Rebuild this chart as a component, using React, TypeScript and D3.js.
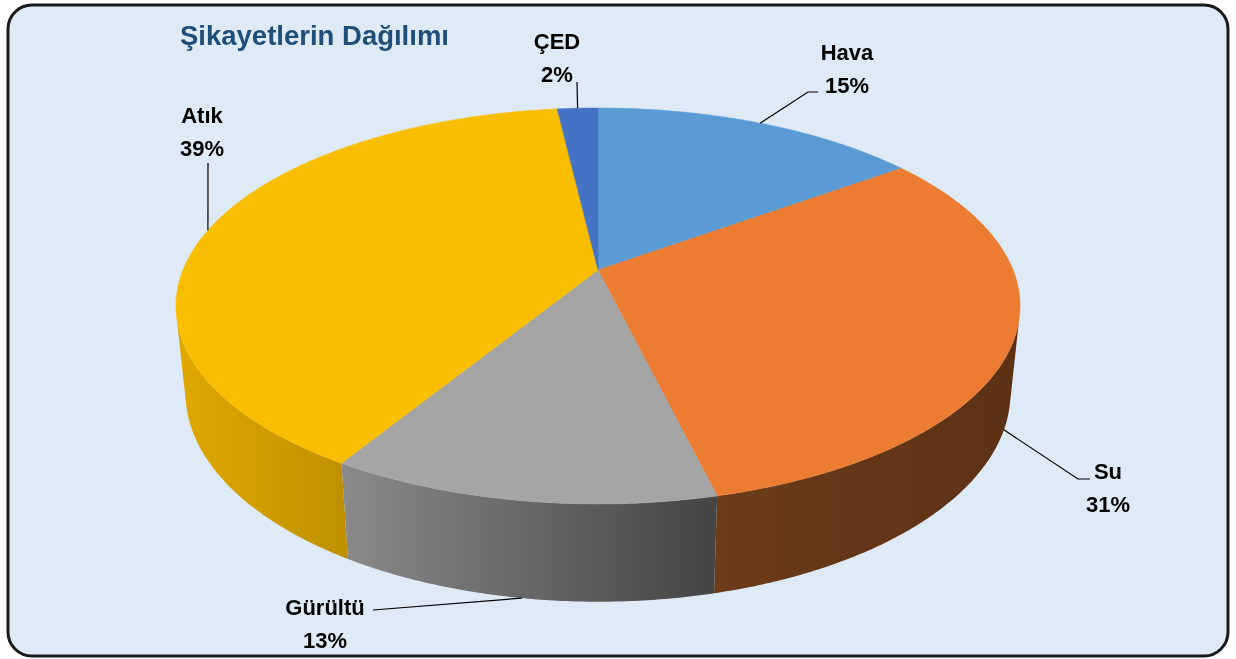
import * as d3 from 'd3';

const categories = ['Hava', 'Su', 'Gürültü', 'Atık', 'ÇED'];
const shares = [15.0, 31.2, 12.55, 39.4, 1.85];
const topColors = ['#5B9BD5', '#EB7C31', '#A5A5A5', '#FABE00', '#4472C4'];
const sideStops: string[][] = [
  ['#3F6F99', '#325A7E'],
  ['#6C3B19', '#5C3115'],
  ['#8A8A8A', '#444444'],
  ['#E0A900', '#BF8F00'],
  ['#2F5290', '#26437A'],
];

// label placement (center x, first baseline) and leader line bends
const labelLayout: Record<string, { x: number; y: number; bends: [number, number][] }> = {
  Hava: { x: 847, y: 60, bends: [[808, 92], [818, 92]] },
  Su: { x: 1108, y: 479, bends: [[1078, 479], [1090, 479]] },
  'Gürültü': { x: 325, y: 615, bends: [[373, 610]] },
  'Atık': { x: 202, y: 123, bends: [[208, 163]] },
  'ÇED': { x: 557, y: 49, bends: [[577, 82]] },
};

const W = 1236;
const H = 659;

// simple perspective camera looking down on a unit disc
const cx = 598;
const cy = 270;
const focal = 2027;
const dist = 4.884;
const tilt = Math.asin(0.4613);
const thick = 0.2375;
const sa = Math.sin(tilt);
const ca = Math.cos(tilt);

function project(theta: number, r: number, yw: number): [number, number] {
  const X = r * Math.sin(theta);
  const Z = r * Math.cos(theta);
  const yp = yw * ca + Z * sa;
  const zp = -yw * sa + Z * ca;
  const depth = dist + zp;
  return [cx + (focal * X) / depth, cy - (focal * yp) / depth];
}

// wall faces the camera where cos(theta) < -1/(dist*cos(tilt))
const visLimit = Math.acos(-1 / (dist * ca));
const visStart = visLimit;
const visEnd = 2 * Math.PI - visLimit;

function arcPoints(a0: number, a1: number, yw: number) {
  const n = Math.max(2, Math.ceil(Math.abs(a1 - a0) / (Math.PI / 360)));
  return d3.range(n + 1).map((i) => project(a0 + ((a1 - a0) * i) / n, 1, yw));
}

const line = d3.line();

export default function App() {
  const pie = d3.pie<number>().sort(null).startAngle(0).endAngle(2 * Math.PI);
  const arcs = pie(shares);
  const total = d3.sum(shares);

  const walls = arcs
    .map((a, i) => {
      const s = Math.max(a.startAngle, visStart);
      const e = Math.min(a.endAngle, visEnd);
      if (e <= s) return null;
      const pts = [...arcPoints(s, e, 0), ...arcPoints(e, s, -thick)];
      return { i, d: line(pts) + 'Z' };
    })
    .filter((w) => w !== null) as { i: number; d: string }[];

  const tops = arcs.map((a, i) => {
    const pts: [number, number][] = [[cx, cy], ...arcPoints(a.startAngle, a.endAngle, 0)];
    return { i, d: line(pts) + 'Z' };
  });

  const labels = arcs.map((a, i) => {
    const mid = (a.startAngle + a.endAngle) / 2;
    const front = mid > visStart && mid < visEnd;
    const anchor = project(mid, 1, front ? -thick : 0);
    const lay = labelLayout[categories[i]];
    return { i, anchor, lay, pct: Math.round((shares[i] / total) * 100) + '%' };
  });

  return (
    <div style={{ position: 'fixed', left: 0, top: 0 }}>
      <svg width={W} height={H} style={{ display: 'block' }} fontFamily="'Liberation Sans', Arial, sans-serif">
        <defs>
          {sideStops.map((st, i) => (
            <linearGradient key={i} id={`side${i}`} x1="0" y1="0" x2="1" y2="0">
              <stop offset="0" stopColor={st[0]} />
              <stop offset="1" stopColor={st[1]} />
            </linearGradient>
          ))}
        </defs>
        <rect x={8} y={5} width={1220} height={651} rx={24} ry={24} fill="#DEEAF6" stroke="#1a1a1a" strokeWidth={3} />
        <text x={180} y={45} fontSize={27.5} fontWeight="bold" fill="#1F4E79">
          Şikayetlerin Dağılımı
        </text>
        <g>
          {walls.map((w) => (
            <path key={'w' + w.i} d={w.d} fill={`url(#side${w.i})`} />
          ))}
          {tops.map((t) => (
            <path key={'t' + t.i} d={t.d} fill={topColors[t.i]} stroke={topColors[t.i]} strokeWidth={0.5} />
          ))}
        </g>
        <g>
          {labels.map((l) => (
            <g key={'l' + l.i}>
              <path d={line([l.anchor, ...l.lay.bends]) ?? ''} fill="none" stroke="#000" strokeWidth={1.2} />
              <text x={l.lay.x} y={l.lay.y} textAnchor="middle" fontSize={22} fontWeight="bold" fill="#000">
                {categories[l.i]}
              </text>
              <text x={l.lay.x} y={l.lay.y + 33} textAnchor="middle" fontSize={22} fontWeight="bold" fill="#000">
                {l.pct}
              </text>
            </g>
          ))}
        </g>
      </svg>
    </div>
  );
}
